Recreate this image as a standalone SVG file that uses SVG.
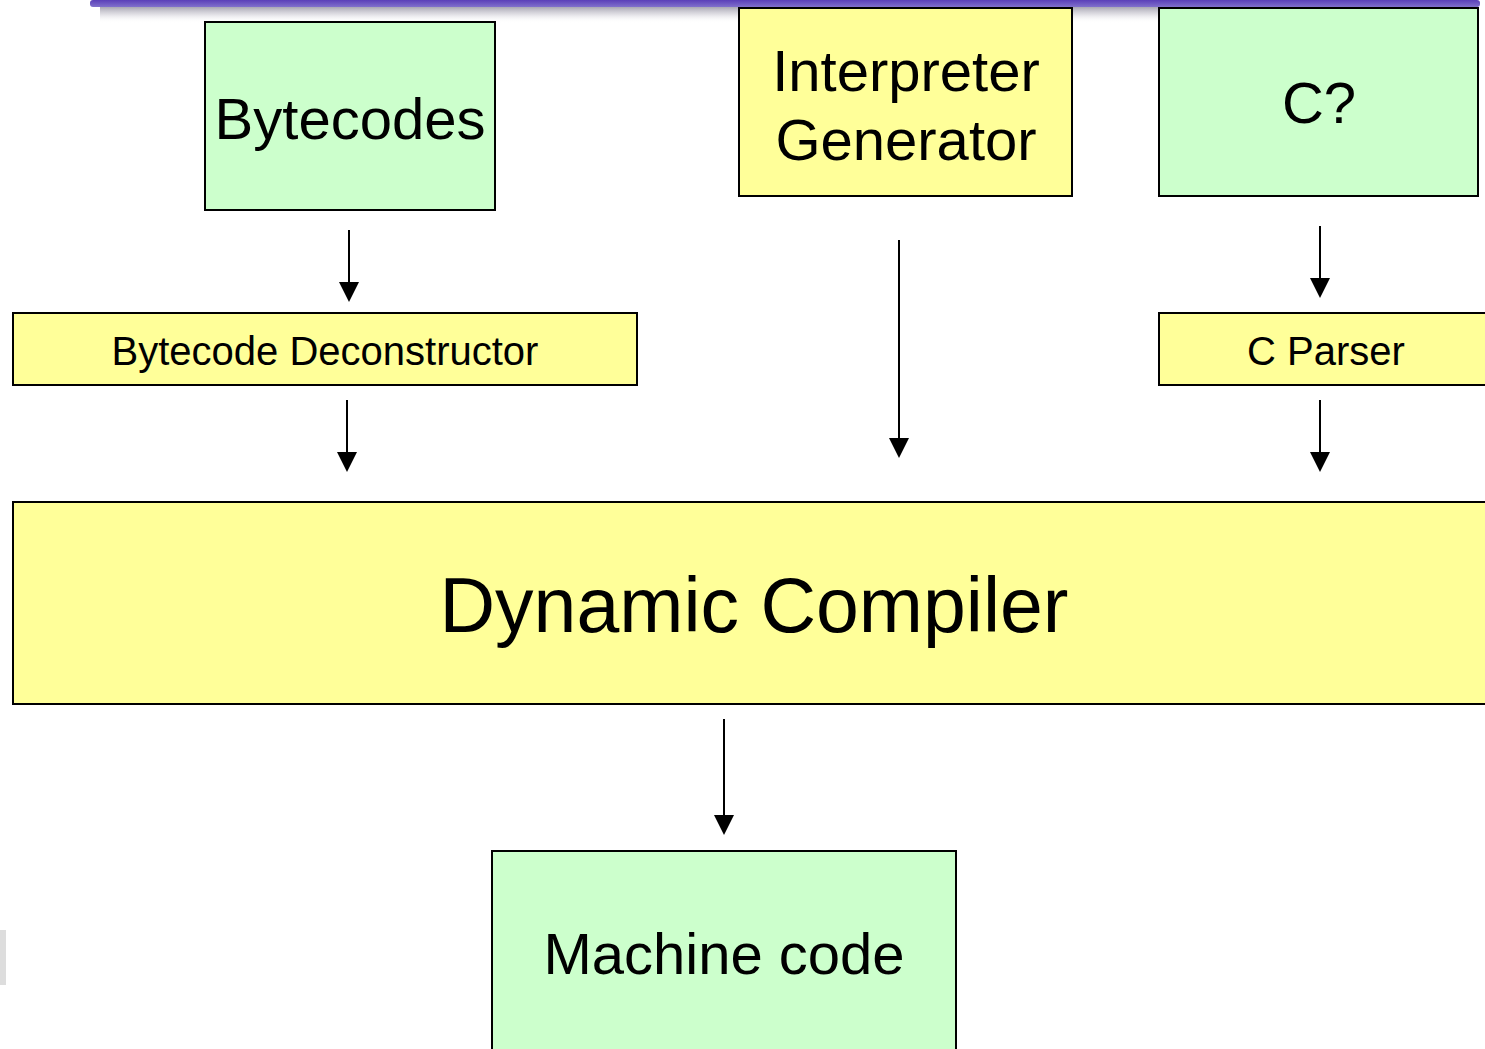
<svg xmlns="http://www.w3.org/2000/svg" width="1485" height="1049" viewBox="0 0 1485 1049">
  <style>
    .green { fill: #CCFFCC; stroke: #000; stroke-width: 2; }
    .yellow { fill: #FFFF99; stroke: #000; stroke-width: 2; }
    .label { font-family: "Liberation Sans", Arial, sans-serif; fill: #000; text-anchor: middle; }
    .edge { stroke: #000; stroke-width: 2; fill: none; marker-end: url(#head); }
  </style>
  <defs>
    <!-- filled triangular arrowhead, 20 x 20 -->
    <marker id="head" viewBox="0 0 20 20" refX="18" refY="10" markerWidth="20" markerHeight="20" markerUnits="userSpaceOnUse" orient="auto">
      <path d="M0,0 L20,10 L0,20 Z" fill="#000"/>
    </marker>
    <linearGradient id="shade" x1="0" y1="0" x2="0" y2="1">
      <stop offset="0" stop-color="#8e8c9c" stop-opacity="0.95"/>
      <stop offset="0.5" stop-color="#c8c6d0" stop-opacity="0.6"/>
      <stop offset="1" stop-color="#ffffff" stop-opacity="0"/>
    </linearGradient>
    <linearGradient id="band" x1="0" y1="0" x2="0" y2="1">
      <stop offset="0" stop-color="#5a3fb8"/>
      <stop offset="1" stop-color="#8070cc"/>
    </linearGradient>
  </defs>

  <rect width="1485" height="1049" fill="#fff"/>

  <!-- title rule across the top with its soft shadow -->
  <rect x="100" y="5" width="1378" height="18" fill="url(#shade)"/>
  <rect x="90" y="0" width="1390" height="7" rx="3" fill="url(#band)"/>

  <!-- faint mark at the left edge -->
  <rect x="0" y="930" width="6" height="55" fill="#d4d4d4" opacity="0.8"/>

  <g id="connectors">
    <line class="edge" x1="349" y1="230" x2="349" y2="300"/>
    <line class="edge" x1="347" y1="400" x2="347" y2="470"/>
    <line class="edge" x1="899" y1="240" x2="899" y2="456"/>
    <line class="edge" x1="1320" y1="226" x2="1320" y2="296"/>
    <line class="edge" x1="1320" y1="400" x2="1320" y2="470"/>
    <line class="edge" x1="724" y1="719" x2="724" y2="833"/>
  </g>

  <g id="bytecodes">
    <rect class="green" x="205" y="22" width="290" height="188"/>
    <text class="label" x="350" y="139" font-size="58">Bytecodes</text>
  </g>

  <g id="interpreter-generator">
    <rect class="yellow" x="739" y="8" width="333" height="188"/>
    <text class="label" x="906" y="91" font-size="58">Interpreter</text>
    <text class="label" x="906" y="160" font-size="58">Generator</text>
  </g>

  <g id="c-source">
    <rect class="green" x="1159" y="8" width="319" height="188"/>
    <text class="label" x="1319" y="123" font-size="58">C?</text>
  </g>

  <g id="bytecode-deconstructor">
    <rect class="yellow" x="13" y="313" width="624" height="72"/>
    <text class="label" x="325" y="365" font-size="40">Bytecode Deconstructor</text>
  </g>

  <g id="c-parser">
    <rect class="yellow" x="1159" y="313" width="340" height="72"/>
    <text class="label" x="1326" y="365" font-size="40">C Parser</text>
  </g>

  <g id="dynamic-compiler">
    <rect class="yellow" x="13" y="502" width="1490" height="202"/>
    <text class="label" x="754" y="632" font-size="77">Dynamic Compiler</text>
  </g>

  <g id="machine-code">
    <rect class="green" x="492" y="851" width="464" height="220"/>
    <text class="label" x="724" y="974" font-size="58">Machine code</text>
  </g>
</svg>
